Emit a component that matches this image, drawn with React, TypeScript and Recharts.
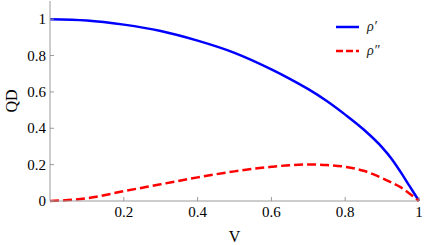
import React from 'react';
import { LineChart, Line, XAxis, YAxis, Legend } from 'recharts';

// V grid and the two curves
const vValues = [0, 0.1, 0.2, 0.3, 0.4, 0.5, 0.6, 0.65, 0.7, 0.75, 0.8, 0.85, 0.9, 0.925, 0.95, 0.975, 1];
const rhoPrime = [1.0, 0.993, 0.97, 0.935, 0.882, 0.815, 0.724, 0.672, 0.615, 0.55, 0.475, 0.393, 0.295, 0.234, 0.16, 0.08, 0];
const rhoDoublePrime = [0, 0.015, 0.054, 0.092, 0.13, 0.163, 0.188, 0.197, 0.201, 0.198, 0.188, 0.166, 0.126, 0.102, 0.076, 0.04, 0];

const xTicks = [0.2, 0.4, 0.6, 0.8, 1];
const yTicks = [0, 0.2, 0.4, 0.6, 0.8, 1];

const FRAME = '#9a9a9a';
const FONT = "'Liberation Serif', 'DejaVu Serif', serif";
const textStyle = { fontFamily: FONT, fontSize: 15 };

const data = vValues.map((v, i) => ({ v, a: rhoPrime[i], b: rhoDoublePrime[i] }));

const fmt = (n: number) => (n === 0 ? '0' : n === 1 ? '1' : n.toFixed(1));

// ticks point inward like the original frame plot
const BottomTick = (props: any) => {
  const { x, y, payload } = props;
  return (
    <g>
      <line x1={x} x2={x} y1={y} y2={y - 4} stroke={FRAME} />
      <text x={x} y={y + 16} textAnchor="middle" style={textStyle} fill="#000">
        {fmt(payload.value)}
      </text>
    </g>
  );
};

const LeftTick = (props: any) => {
  const { x, y, payload } = props;
  return (
    <g>
      <line x1={x} x2={x + 4} y1={y} y2={y} stroke={FRAME} />
      <text x={x - 4} y={y + 5} textAnchor="end" style={textStyle} fill="#000">
        {fmt(payload.value)}
      </text>
    </g>
  );
};

const YLabel = (props: any) => {
  const { viewBox } = props;
  const cy = viewBox.y + viewBox.height / 2;
  return (
    <text x={17} y={cy} transform={`rotate(-90, 17, ${cy})`} textAnchor="middle" style={{ fontFamily: FONT, fontSize: 16 }} fill="#000">
      QD
    </text>
  );
};

const renderLegend = () => (
  <div style={{ fontFamily: FONT, fontStyle: 'italic', fontSize: 14, color: '#222' }}>
    <div style={{ display: 'flex', alignItems: 'center', height: 24 }}>
      <svg width={31} height={10}>
        <line x1={0} x2={23} y1={5} y2={5} stroke="#0000ff" strokeWidth={2.5} />
      </svg>
      <span>ρ′</span>
    </div>
    <div style={{ display: 'flex', alignItems: 'center', height: 24 }}>
      <svg width={31} height={10}>
        <line x1={0} x2={23} y1={5} y2={5} stroke="#ff0000" strokeWidth={2.5} strokeDasharray="7 3" />
      </svg>
      <span>ρ″</span>
    </div>
  </div>
);

export default function App() {
  return (
    <div style={{ position: 'absolute', left: 0, top: 0, width: 425, height: 245, background: '#fff' }}>
      <LineChart width={425} height={245} data={data} margin={{ top: 1, right: 6, bottom: 0, left: 0 }}>
        <XAxis
          dataKey="v"
          type="number"
          domain={[0, 1]}
          ticks={xTicks}
          height={44}
          stroke={FRAME}
          tickLine={false}
          tickSize={0}
          tickMargin={0}
          tick={<BottomTick />}
          label={{ value: 'V', position: 'insideBottom', offset: 3, fontFamily: FONT, fontSize: 16, fill: '#000' }}
        />
        <XAxis xAxisId="top" dataKey="v" type="number" domain={[0, 1]} orientation="top" height={0} tick={false} tickLine={false} stroke={FRAME} />
        <YAxis
          type="number"
          domain={[0, 1.1]}
          ticks={yTicks}
          width={50}
          stroke={FRAME}
          tickLine={false}
          tickSize={0}
          tickMargin={0}
          tick={<LeftTick />}
          label={<YLabel />}
        />
        <YAxis yAxisId="right" orientation="right" domain={[0, 1.1]} width={0} tick={false} tickLine={false} stroke={FRAME} />
        <Legend
          layout="horizontal"
          verticalAlign="middle"
          align="center"
          content={renderLegend}
          wrapperStyle={{ left: 336, top: 15, width: 80 }}
        />
        <Line type="monotone" dataKey="a" stroke="#0000ff" strokeWidth={2.5} dot={false} isAnimationActive={false} />
        <Line type="monotone" dataKey="b" stroke="#ff0000" strokeWidth={2.5} strokeDasharray="9 4" dot={false} isAnimationActive={false} />
      </LineChart>
    </div>
  );
}
